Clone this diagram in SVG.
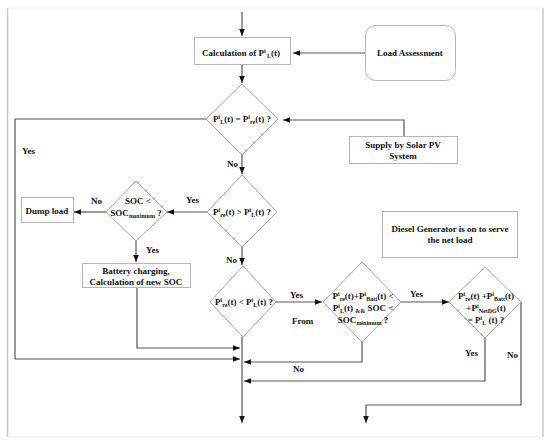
<svg xmlns="http://www.w3.org/2000/svg" width="550" height="448" viewBox="0 0 550 448">
<defs>
<marker id="ah" viewBox="0 0 10 10" refX="10" refY="5" markerWidth="7" markerHeight="7" markerUnits="userSpaceOnUse" orient="auto">
<path d="M0,1 L10,5 L0,9 z" fill="#111"/>
</marker>
<style>
.t{font-family:"Liberation Serif","Times New Roman",serif;font-weight:bold;font-size:9px;fill:#111;text-anchor:middle}
.l{font-family:"Liberation Serif","Times New Roman",serif;font-weight:bold;font-size:9px;fill:#111}
.s{font-size:6px}
.box{fill:#fff;stroke:#b5b5b5;stroke-width:1}
.dia{fill:#fff;stroke:#a8a8a8;stroke-width:1}
.c{fill:none;stroke:#555;stroke-width:1.2}
.a{marker-end:url(#ah)}
</style>
</defs>
<rect width="550" height="448" fill="#fff"/>
<g id="frame">
<line x1="7.5" y1="8" x2="7.5" y2="437" stroke="#c8c8c8" stroke-width="1.5"/>
<line x1="543" y1="8" x2="543" y2="437" stroke="#c8c8c8" stroke-width="1.5"/>
<line x1="7.5" y1="8" x2="543" y2="8" stroke="#f0f0f0" stroke-width="1"/>
<line x1="7.5" y1="437" x2="543" y2="437" stroke="#ececec" stroke-width="1"/>
</g>
<g id="connectors">
<path class="c a" d="M242,12 V36"/>
<path class="c a" d="M365,53 H293"/>
<path class="c a" d="M242,65 V83"/>
<path class="c a" d="M404,137 V120 H283"/>
<path class="c a" d="M206,119 H15 V359 H240"/>
<path class="c a" d="M242,155 V174"/>
<path class="c a" d="M207,212 H167"/>
<path class="c a" d="M106,212 H74"/>
<path class="c a" d="M136,241 V262"/>
<path class="c a" d="M137,287 V348 H240"/>
<path class="c a" d="M242,247 V265"/>
<path class="c a" d="M276,302 H322"/>
<path class="c a" d="M362,342 V362 H244"/>
<path class="c a" d="M401,302 H449"/>
<path class="c a" d="M485,338 V381 H244"/>
<path class="c a" d="M521,302 V405 H366 V423"/>
<path class="c a" d="M242,337 V423"/>
<text class="l" x="22" y="154">Yes</text>
<text class="l" x="227" y="167">No</text>
<text class="l" x="186" y="203">Yes</text>
<text class="l" x="91" y="204">No</text>
<text class="l" x="146" y="253">Yes</text>
<text class="l" x="226" y="263">No</text>
<text class="l" x="290" y="298">Yes</text>
<text class="l" x="292" y="324">From</text>
<text class="l" x="410" y="297">Yes</text>
<text class="l" x="293" y="372">No</text>
<text class="l" x="465" y="356">Yes</text>
<text class="l" x="507" y="358">No</text>
</g>
<g id="calc">
<rect class="box" x="194.5" y="37.5" width="96" height="27" stroke="#ddd"/>
<text class="t" x="241" y="56">Calculation of P<tspan class="s" dy="-3">i</tspan><tspan class="s" dy="4.5"> L</tspan><tspan dy="-1.5">(t)</tspan></text>
</g>
<g id="load">
<rect class="box" x="365.5" y="25.5" width="90" height="55" rx="10" stroke="#c0c0c0"/>
<text class="t" x="410" y="56">Load Assessment</text>
</g>
<g id="d1">
<polygon class="dia" points="242,84 278,119 242,155 206,119"/>
<text class="t" x="242" y="122">P<tspan class="s" dy="-3">i</tspan><tspan class="s" dy="4.5">L</tspan><tspan dy="-1.5">(t) = P</tspan><tspan class="s" dy="-3">i</tspan><tspan class="s" dy="4.5">re</tspan><tspan dy="-1.5">(t)  ?</tspan></text>
</g>
<g id="supply">
<rect class="box" x="349.5" y="136.5" width="108" height="27"/>
<text class="t" x="403" y="148">Supply by Solar PV</text>
<text class="t" x="403" y="159">System</text>
</g>
<g id="d2">
<polygon class="dia" points="242,175 277,212 242,247 207,212"/>
<text class="t" x="242" y="215">P<tspan class="s" dy="-3">i</tspan><tspan class="s" dy="4.5">re</tspan><tspan dy="-1.5">(t) &gt; P</tspan><tspan class="s" dy="-3">i</tspan><tspan class="s" dy="4.5">L</tspan><tspan dy="-1.5">(t)  ?</tspan></text>
</g>
<g id="soc">
<polygon class="dia" points="136,181 167,212 136,241 106,212"/>
<text class="t" x="138" y="204">SOC &lt;</text>
<text class="t" x="136" y="216">SOC<tspan class="s" dy="1.5">maximum</tspan><tspan dy="-1.5"> ?</tspan></text>
</g>
<g id="dump">
<rect class="box" x="21.5" y="197.5" width="52" height="25"/>
<text class="t" x="47" y="214">Dump load</text>
</g>
<g id="battery">
<rect class="box" x="82.5" y="263.5" width="108" height="24"/>
<text class="t" x="136" y="274">Battery charging,</text>
<text class="t" x="136" y="285">Calculation of new SOC</text>
</g>
<g id="diesel">
<rect class="box" x="382.5" y="211.5" width="135" height="46"/>
<text class="t" x="450" y="232">Diesel Generator is on to serve</text>
<text class="t" x="450" y="243">the net load</text>
</g>
<g id="d3">
<polygon class="dia" points="243,266 276,302 243,337 210,302"/>
<text class="t" x="244" y="305">P<tspan class="s" dy="-3">i</tspan><tspan class="s" dy="4.5">re</tspan><tspan dy="-1.5">(t) &lt; P</tspan><tspan class="s" dy="-3">i</tspan><tspan class="s" dy="4.5">L</tspan><tspan dy="-1.5">(t)  ?</tspan></text>
</g>
<g id="d4">
<polygon class="dia" points="362,262 401,302 362,342 323,302"/>
<text class="t" x="363" y="299">P<tspan class="s" dy="-3">i</tspan><tspan class="s" dy="4.5">re</tspan><tspan dy="-1.5">(t)+P</tspan><tspan class="s" dy="-3">i</tspan><tspan class="s" dy="4.5">Batt</tspan><tspan dy="-1.5">(t) &lt;</tspan></text>
<text class="t" x="363" y="311">P<tspan class="s" dy="-3">i</tspan><tspan class="s" dy="4.5">L</tspan><tspan dy="-1.5">(t)  </tspan><tspan class="s" dy="1.5">&amp;&amp;</tspan><tspan dy="-1.5"> SOC &lt;</tspan></text>
<text class="t" x="363" y="323">SOC<tspan class="s" dy="1.5">minimum</tspan><tspan dy="-1.5"> ?</tspan></text>
</g>
<g id="d5">
<polygon class="dia" points="485,267 521,302 485,338 449,302"/>
<text class="t" x="486" y="299">P<tspan class="s" dy="-3">i</tspan><tspan class="s" dy="4.5">re</tspan><tspan dy="-1.5">(t) +P</tspan><tspan class="s" dy="-3">i</tspan><tspan class="s" dy="4.5">Batt</tspan><tspan dy="-1.5">(t)</tspan></text>
<text class="t" x="486" y="311">+P<tspan class="s" dy="-3">i</tspan><tspan class="s" dy="4.5">NetDG</tspan><tspan dy="-1.5">(t)</tspan></text>
<text class="t" x="486" y="323">= P<tspan class="s" dy="-3">i</tspan><tspan class="s" dy="4.5">L</tspan><tspan dy="-1.5"> (t)  ?</tspan></text>
</g>
</svg>
